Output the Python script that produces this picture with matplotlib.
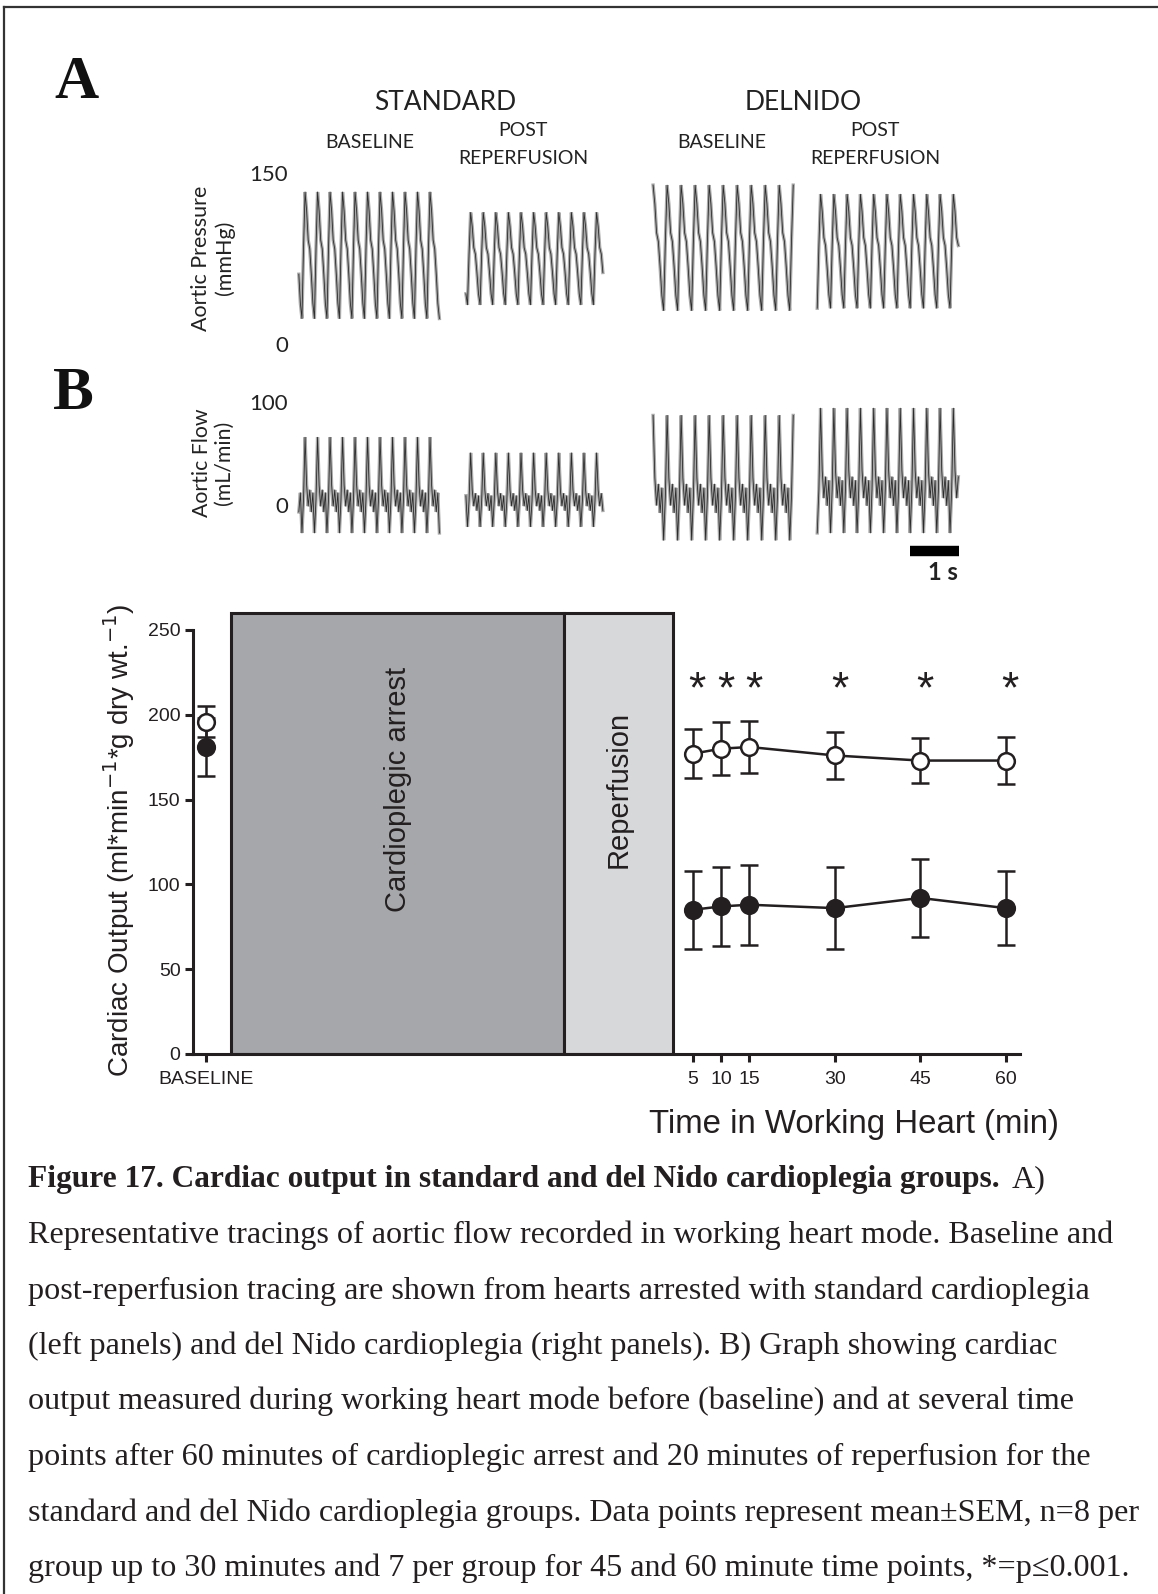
import matplotlib
matplotlib.use('Agg')
import matplotlib.pyplot as plt
import numpy as np
from matplotlib.lines import Line2D
from matplotlib.patches import Rectangle

# ---------------- data ----------------
timepoints = [5, 10, 15, 30, 45, 60]
tick_labels = ['BASELINE', '5', '10', '15', '30', '45', '60']
delnido_mean = [177, 180, 181, 176, 173, 173]
delnido_sem = [14.5, 15.5, 15.3, 14.0, 13.3, 14.0]
standard_mean = [85, 87, 88, 86, 92, 86]
standard_sem = [23.0, 23.4, 23.7, 24.3, 23.0, 21.6]
delnido_baseline = [196]
delnido_baseline_sem = [9]
standard_baseline = [181]
standard_baseline_sem = [17]
significant = [5, 10, 15, 30, 45, 60]
yticks = [0, 50, 100, 150, 200, 250]

# representative tracings: one beat template read from the recordings
pressure_shape = [0.0, 0.55, 1.0, 0.85, 0.62, 0.55, 0.35, 0.12]
flow_shape = [0.0, 0.35, 1.0, 0.5, 0.28, 0.45, 0.22, 0.42]
trace_names = ['STANDARD BASELINE', 'STANDARD POST', 'DELNIDO BASELINE', 'DELNIDO POST']
beat_period_s = [0.255, 0.257, 0.286, 0.271]
n_beats = [11.4, 11.0, 10.1, 10.75]
pressure_min = [25, 37, 32, 34]
pressure_max = [136, 118, 142, 134]
flow_min = [-24, -18, -31, -24]
flow_max = [68, 53, 89, 96]

# ---------------- layout ----------------
W, H = 1158, 1594
fig = plt.figure(figsize=(W / 100, H / 100), dpi=100)
fx = lambda px: px / W
fy = lambda py: 1 - py / H
INK = '#231f20'

trace_start_s = [0.18, 3.59, 7.41, 10.76]
start_phase = [6, 7, 2, 0]
BASELINE_POS = -80.4
ARREST_SPAN = (-76.0, -17.5)
REPERF_SPAN = (-17.5, 1.6)
BOX_TOP = 260

# border
fig.add_artist(Line2D([fx(4), 1.0], [fy(7), fy(7)], color='#333333', lw=1.6))
fig.add_artist(Line2D([fx(4), fx(4)], [fy(7), 0.0], color='#333333', lw=1.6))

# panel letters
fig.text(fx(76), fy(83), 'A', fontsize=44, fontweight='bold', family='Liberation Serif',
         ha='center', va='center', color='#111111')
fig.text(fx(73), fy(394), 'B', fontsize=44, fontweight='bold', family='Liberation Serif',
         ha='center', va='center', color='#111111')

tfont = dict(family='Lato', color='#222222')
fig.text(fx(445), fy(102), 'STANDARD', fontsize=19, ha='center', va='center', **tfont)
fig.text(fx(803), fy(102), 'DELNIDO', fontsize=19, ha='center', va='center', **tfont)
for cx, lab in [(370, 'BASELINE'), (722, 'BASELINE')]:
    fig.text(fx(cx), fy(143), lab, fontsize=14, ha='center', va='center', **tfont)
for cx in [523, 875]:
    fig.text(fx(cx), fy(130), 'POST', fontsize=14, ha='center', va='center', **tfont)
    fig.text(fx(cx), fy(158), 'REPERFUSION', fontsize=14, ha='center', va='center', **tfont)

for txt, yy in [('150', 175), ('0', 346), ('100', 404), ('0', 507)]:
    fig.text(fx(288), fy(yy), txt, fontsize=16, ha='right', va='center', **tfont)
fig.text(fx(213), fy(258), 'Aortic Pressure\n(mmHg)', rotation=90, fontsize=15.5,
         ha='center', va='center', linespacing=1.15, multialignment='center', **tfont)
fig.text(fx(213), fy(463), 'Aortic Flow\n(mL/min)', rotation=90, fontsize=15.3,
         ha='center', va='center', linespacing=1.15, multialignment='center', **tfont)

# trace axes (x in seconds, 49 px per second)
px_per_s = 49.0
ax_p = fig.add_axes([fx(290), fy(358.4), fx(970) - fx(290), 193.8 / H])
ax_p.set_xlim(0, 680 / px_per_s)
ax_p.set_ylim(-10, 160)
ax_f = fig.add_axes([fx(290), fy(580.8), fx(970) - fx(290), (580.8 - 393.6) / H])
ax_f.set_xlim(0, 680 / px_per_s)
ax_f.set_ylim(-70, 110)
for a in (ax_p, ax_f):
    a.axis('off')

def draw_trace(a, shape, t0, period, beats, phase, lo, hi):
    n = int(round(beats * len(shape)))
    idx = (phase + np.arange(n)) % len(shape)
    vals = lo + (hi - lo) * np.asarray(shape)[idx]
    t = t0 + np.arange(n) * period / len(shape)
    a.plot(t, vals, color='#a9a9a9', lw=2.4, solid_joinstyle='miter')
    a.plot(t, vals, color='#1e1e1e', lw=0.6, alpha=0.9)

for i in range(4):
    draw_trace(ax_p, pressure_shape, trace_start_s[i], beat_period_s[i], n_beats[i],
               start_phase[i], pressure_min[i], pressure_max[i])
    draw_trace(ax_f, flow_shape, trace_start_s[i], beat_period_s[i], n_beats[i],
               start_phase[i], flow_min[i], flow_max[i])

# 1 s scale bar
bar_start = (910 - 290) / px_per_s
ax_f.plot([bar_start, bar_start + 1.0], [-41.3, -41.3], color='black', lw=7.5,
          solid_capstyle='butt')
fig.text(fx(943), fy(572), '1 s', fontsize=17, fontweight='bold', ha='center', va='center',
         **tfont)

# ---------------- main graph ----------------
ax = fig.add_axes([fx(193), fy(1054), fx(1020) - fx(193), (1054 - 609.6) / H])
ax.set_xlim(-82.7, 62.5)
ax.set_ylim(0, 262)
for s in ['top', 'right']:
    ax.spines[s].set_visible(False)
for s in ['left', 'bottom']:
    ax.spines[s].set_linewidth(2.2)
    ax.spines[s].set_color(INK)
ax.spines['left'].set_bounds(0, 250)
ax.set_yticks(yticks)
ax.set_xticks([BASELINE_POS] + timepoints)
ax.set_xticklabels(tick_labels)
ax.tick_params(axis='both', direction='out', length=6, width=2.2, color=INK,
               labelsize=14, labelcolor=INK)
ax.tick_params(axis='x', pad=6)
ax.tick_params(axis='y', pad=3)
for lab in ax.get_xticklabels() + ax.get_yticklabels():
    lab.set_family('Liberation Sans')

ax.add_patch(Rectangle((ARREST_SPAN[0], 0), ARREST_SPAN[1] - ARREST_SPAN[0], BOX_TOP,
                       facecolor='#a6a7aa', edgecolor=INK, lw=2.2, zorder=1))
ax.add_patch(Rectangle((REPERF_SPAN[0], 0), REPERF_SPAN[1] - REPERF_SPAN[0], BOX_TOP,
                       facecolor='#d7d8da', edgecolor=INK, lw=2.2, zorder=1))
ax.text(sum(ARREST_SPAN) / 2, 156, 'Cardioplegic arrest', rotation=90, ha='center',
        va='center', fontsize=21, family='Liberation Sans', color=INK)
ax.text(sum(REPERF_SPAN) / 2, 156, 'Reperfusion', rotation=90, ha='center',
        va='center', fontsize=21, family='Liberation Sans', color=INK)

eb = dict(color=INK, ms=12, mew=1.8, lw=1.8, elinewidth=1.8, capsize=6.5, capthick=1.8,
          clip_on=False, zorder=3)
ax.errorbar(timepoints, standard_mean, yerr=standard_sem, fmt='-o', mfc=INK, mec=INK, **eb)
ax.errorbar([BASELINE_POS], standard_baseline, yerr=standard_baseline_sem, fmt='o',
            mfc=INK, mec=INK, **eb)
ax.errorbar(timepoints, delnido_mean, yerr=delnido_sem, fmt='-o', mfc='white', mec=INK, **eb)
ax.errorbar([BASELINE_POS], delnido_baseline, yerr=delnido_baseline_sem, fmt='o',
            mfc='white', mec=INK, **eb)
for t in significant:
    ax.text(t + 0.8, 214, '*', ha='center', va='center', fontsize=32,
            family='Liberation Sans', color=INK)

fig.text(fx(854), fy(1125), 'Time in Working Heart (min)', ha='center', va='center',
         fontsize=23.8, family='Liberation Sans', color=INK)
fig.text(fx(119), fy(840), r'Cardiac Output (ml*min$^{-1}$*g dry wt.$^{-1}$)', rotation=90,
         ha='center', va='center', fontsize=20, family='Liberation Sans', color=INK)

# ---------------- caption ----------------
cap_font = dict(family=['Liberation Serif', 'DejaVu Serif'], fontsize=23.1, color=INK)
lines = [
    'Representative tracings of aortic flow recorded in working heart mode. Baseline and',
    'post-reperfusion tracing are shown from hearts arrested with standard cardioplegia',
    '(left panels) and del Nido cardioplegia (right panels). B) Graph showing cardiac',
    'output measured during working heart mode before (baseline) and at several time',
    'points after 60 minutes of cardioplegic arrest and 20 minutes of reperfusion for the',
    'standard and del Nido cardioplegia groups. Data points represent mean\u00b1SEM, n=8 per',
    'group up to 30 minutes and 7 per group for 45 and 60 minute time points, *=p\u22640.001.',
]
base0 = 1187.5
step = 55.5
bold_font = dict(cap_font, fontsize=22.6)
t1 = fig.text(fx(27.5), fy(base0),
              'Figure 17. Cardiac output in standard and del Nido cardioplegia groups.',
              fontweight='bold', va='baseline', ha='left', **bold_font)
r = fig.canvas.get_renderer()
bb = t1.get_window_extent(renderer=r)
fig.text(bb.x1 / W + fx(12), fy(base0), 'A)', va='baseline', ha='left', **cap_font)
for i, ln in enumerate(lines):
    fig.text(fx(27.5), fy(base0 + step * (i + 1)), ln, va='baseline', ha='left', **cap_font)

fig.savefig('out.png', dpi=100)
